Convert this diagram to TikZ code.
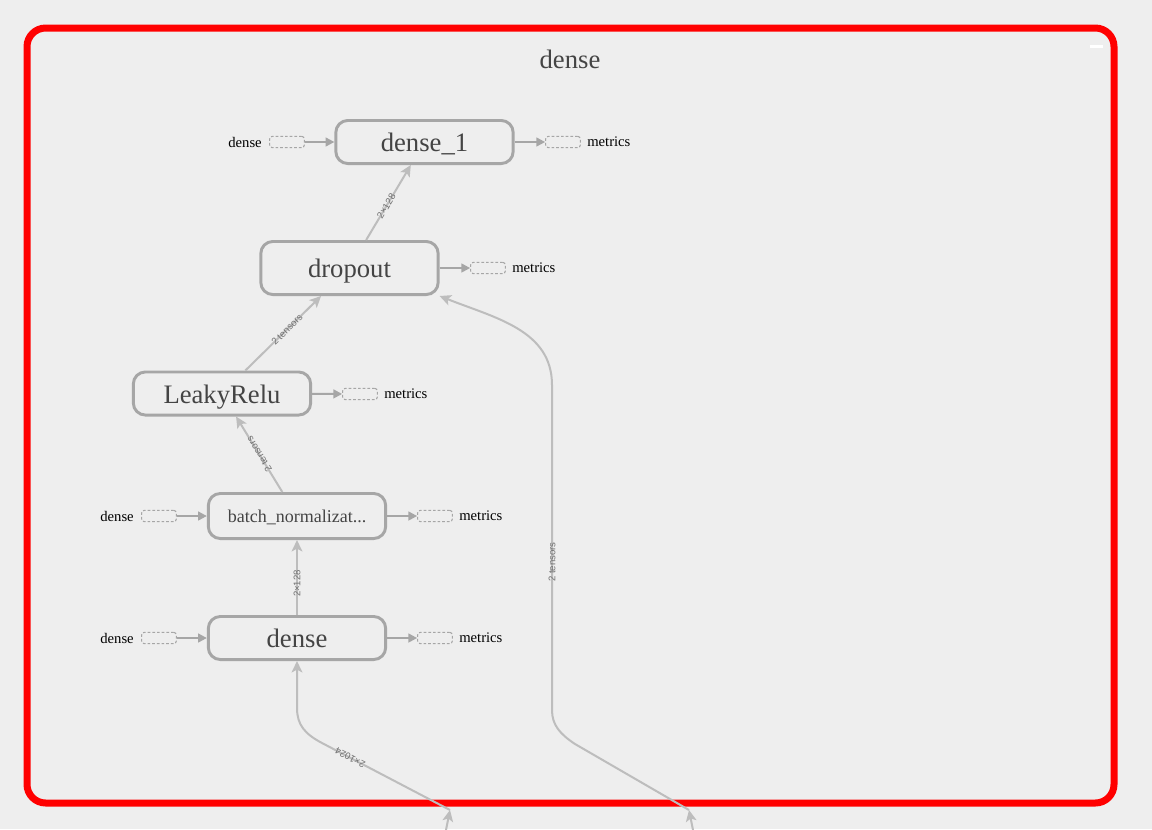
\documentclass[tikz,border=0pt]{standalone}
\usepackage{fontspec}
\setmainfont{Liberation Serif}
\setsansfont{Liberation Sans}
\usetikzlibrary{arrows.meta}
\definecolor{canvas}{HTML}{EEEEEE}
\definecolor{opline}{HTML}{A6A6A6}
\definecolor{flowline}{HTML}{BDBDBD}
\definecolor{optext}{HTML}{444444}
\definecolor{flowtext}{HTML}{707070}
\definecolor{groupframe}{HTML}{FF0000}
\begin{document}
\begin{tikzpicture}[x=0.75pt,y=-0.75pt,
    op/.style={draw=opline,line width=2.2pt,rounded corners=9pt,fill=canvas,
      text=optext,minimum width=133pt,inner sep=0pt,text height=18.5pt,text depth=4pt,
      font=\fontsize{20}{24}\selectfont},
    stub/.style={draw=opline,line width=0.8pt,dash pattern=on 2pt off 1.5pt,
      rounded corners=2pt,minimum width=26pt,minimum height=8.5pt,inner sep=0pt},
    side/.style={inner sep=0pt,font=\fontsize{11}{13}\selectfont},
    flow/.style={draw=flowline,line width=1.5pt,-{Stealth[length=8.5pt,width=8pt,inset=2pt]}},
    feed/.style={draw=opline,line width=1.5pt,-{Triangle[length=6.5pt,width=6.5pt]}},
    tlabel/.style={sloped,allow upside down,inner sep=0.5pt,text=flowtext,
      font=\sffamily\fontsize{7.2}{8}\selectfont}]
  \clip (0,0) rectangle (1152,829);
  \fill[canvas] (0,0) rectangle (1152,829);
  \draw[groupframe,line width=5.25pt,rounded corners=14pt] (27,28) rectangle (1114,803);
  \fill[white] (1090,45) rectangle (1103,48);
  \draw
    (570,59) node[text=optext,font=\fontsize{20}{24}\selectfont] (title) {dense}
    (424.5,142) node[op,minimum height=32.3pt] (dense1) {dense\_1}
    (349.5,268) node[op,minimum height=39.8pt] (dropout) {dropout}
    (222,393.5) node[op,minimum height=32.3pt] (leaky) {LeakyRelu}
    (297,516) node[op,minimum height=33.8pt,text height=12pt,text depth=2.7pt,
      font=\fontsize{13.5}{16}\selectfont] (bnorm) {batch\_normalizat...}
    (297,638) node[op,minimum height=32.3pt] (dense) {dense};
  \draw
    (287,142) node[stub] (dense1in) {}
    (563,142) node[stub] (dense1out) {}
    (488,268) node[stub] (dropoutout) {}
    (360,394) node[stub] (leakyout) {}
    (159,516) node[stub] (bnormin) {}
    (435,516) node[stub] (bnormout) {}
    (159,638) node[stub] (densein) {}
    (435,638) node[stub] (denseout) {};
  \draw
    (262,142) node[side,anchor=east] (dense1inlab) {dense}
    (587,142) node[side,anchor=west] (dense1outlab) {metrics}
    (512,268) node[side,anchor=west] (dropoutoutlab) {metrics}
    (384,394) node[side,anchor=west] (leakyoutlab) {metrics}
    (134,516) node[side,anchor=east] (bnorminlab) {dense}
    (459,516) node[side,anchor=west] (bnormoutlab) {metrics}
    (134,638) node[side,anchor=east] (denseinlab) {dense}
    (459,638) node[side,anchor=west] (denseoutlab) {metrics};
  \begin{scope}[feed]
    \draw (dense1in) to (dense1);
    \draw (dense1) to (dense1out);
    \draw (dropout) to (dropoutout);
    \draw (leaky) to (leakyout);
    \draw (bnormin) to (bnorm);
    \draw (bnorm) to (bnormout);
    \draw (densein) to (dense);
    \draw (dense) to (denseout);
  \end{scope}
  \coordinate (srcA) at (445,835);
  \coordinate (inA) at (450,810);
  \coordinate (srcB) at (694,835);
  \coordinate (inB) at (689,810);
  \begin{scope}[flow]
    \draw (dropout) to node[tlabel,pos=0.45]{2×128} (dense1);
    \draw (leaky) to node[tlabel,pos=0.55]{2 tensors} (dropout);
    \draw (bnorm) to node[tlabel]{2 tensors} (leaky);
    \draw (dense) to node[tlabel,pos=0.42]{2×128} (bnorm);
    \draw (srcA) to (inA);
    \draw (srcB) to (inB);
    \draw (inA) -- node[tlabel,pos=0.78]{2×1024} (322,743)
      .. controls (305,734) and (297,725) .. (297,708) -- (dense);
    \draw (inB) -- (575,744) .. controls (560,734) and (552,725) .. (552,710)
      -- node[tlabel,pos=0.455]{2 tensors} (552,385)
      .. controls (552,330) and (495,318) .. (dropout.south east);
  \end{scope}
\end{tikzpicture}
\end{document}
